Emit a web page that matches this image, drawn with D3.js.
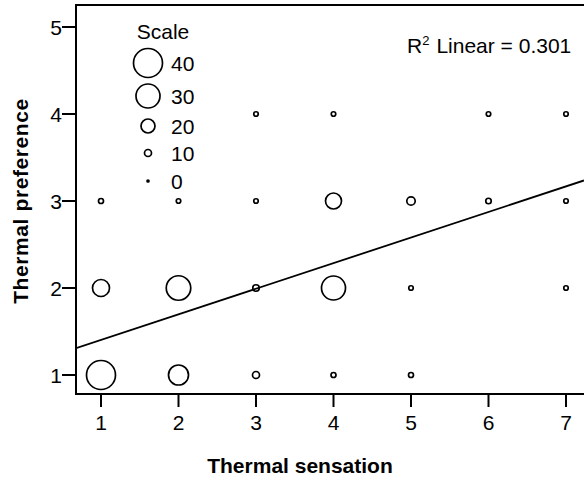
<!DOCTYPE html>
<html>
<head>
<meta charset="utf-8">
<script src="https://cdn.jsdelivr.net/npm/d3@7"></script>
<style>
  body { margin: 0; background: #fff; }
  svg { display: block; font-family: "Liberation Sans", Arial, sans-serif; }
</style>
</head>
<body>
<svg id="chart" width="584" height="481"></svg>
<script>
// bubble data: thermal sensation (x), thermal preference (y), number of votes
const sensation  = [1, 2, 3, 4, 5,   1, 2, 3, 4, 5, 7,   1, 2, 3, 4, 5, 6, 7,   3, 4, 6, 7]
const preference = [1, 1, 1, 1, 1,   2, 2, 2, 2, 2, 2,   3, 3, 3, 3, 3, 3, 3,   4, 4, 4, 4]
const counts     = [40, 26, 10, 6, 6,   23, 31, 9, 30, 5, 5,   6, 5, 5, 22, 12, 7, 5,   5, 5, 5, 5]

const xTicks = [1, 2, 3, 4, 5, 6, 7]
const yTicks = [1, 2, 3, 4, 5]
const legendValues = [40, 30, 20, 10, 0]

// linear fit
const fitIntercept = 1.11
const fitSlope = 0.294
const r2Label = "0.301"

const svg = d3.select("#chart")

const x = d3.scaleLinear().domain([1, 7]).range([101, 566])
const y = d3.scaleLinear().domain([1, 5]).range([375, 27])
// bubble radius, as used by the "Scale" legend
const r = d3.scaleLinear().domain([0, 10, 20, 30, 40]).range([1, 3.5, 7, 12, 14.5])

const plotLeft = 76, plotTop = 5, plotBottom = 394, plotRight = 584

// frame
svg.append("path")
  .attr("d", `M${plotRight},${plotTop}H${plotLeft}V${plotBottom}H${plotRight}`)
  .attr("fill", "none")
  .attr("stroke", "#000")
  .attr("stroke-width", 2)

// y axis ticks
const yAxis = svg.append("g")
yAxis.selectAll("line").data(yTicks).enter().append("line")
  .attr("x1", 62).attr("x2", plotLeft)
  .attr("y1", (d) => y(d)).attr("y2", (d) => y(d))
  .attr("stroke", "#000").attr("stroke-width", 2)
yAxis.selectAll("text").data(yTicks).enter().append("text")
  .attr("x", 62).attr("y", (d) => y(d))
  .attr("dy", "0.36em")
  .attr("text-anchor", "end")
  .attr("font-size", 21)
  .text((d) => d)

// x axis ticks
const xAxis = svg.append("g")
xAxis.selectAll("line").data(xTicks).enter().append("line")
  .attr("x1", (d) => x(d)).attr("x2", (d) => x(d))
  .attr("y1", plotBottom).attr("y2", 407)
  .attr("stroke", "#000").attr("stroke-width", 2)
xAxis.selectAll("text").data(xTicks).enter().append("text")
  .attr("x", (d) => x(d)).attr("y", 430)
  .attr("text-anchor", "middle")
  .attr("font-size", 21)
  .text((d) => d)

// axis titles
svg.append("text")
  .attr("x", 300).attr("y", 473)
  .attr("text-anchor", "middle")
  .attr("font-size", 21).attr("font-weight", "bold")
  .text("Thermal sensation")

svg.append("text")
  .attr("transform", "translate(28,201) rotate(-90)")
  .attr("text-anchor", "middle")
  .attr("font-size", 21).attr("font-weight", "bold")
  .attr("letter-spacing", 0.6)
  .text("Thermal preference")

// clip for plot contents
svg.append("clipPath").attr("id", "plotClip")
  .append("rect")
  .attr("x", plotLeft).attr("y", plotTop)
  .attr("width", plotRight - plotLeft).attr("height", plotBottom - plotTop)

const plot = svg.append("g").attr("clip-path", "url(#plotClip)")

// fit line
const x0 = x.invert(plotLeft), x1 = x.invert(plotRight)
plot.append("line")
  .attr("x1", x(x0)).attr("y1", y(fitIntercept + fitSlope * x0))
  .attr("x2", x(x1)).attr("y2", y(fitIntercept + fitSlope * x1))
  .attr("stroke", "#000").attr("stroke-width", 1.8)

// bubbles
plot.selectAll("circle.bubble").data(counts).enter().append("circle")
  .attr("class", "bubble")
  .attr("cx", (d, i) => x(sensation[i]))
  .attr("cy", (d, i) => y(preference[i]))
  .attr("r", (d) => r(d))
  .attr("fill", "none")
  .attr("stroke", "#000")
  .attr("stroke-width", 1.7)

// size legend
const legend = svg.append("g")
legend.append("text")
  .attr("x", 163).attr("y", 39)
  .attr("text-anchor", "middle")
  .attr("font-size", 21)
  .text("Scale")
const legendY = d3.scaleOrdinal().domain(legendValues).range([63, 96, 126, 153, 181])
legend.selectAll("circle").data(legendValues).enter().append("circle")
  .attr("cx", 148).attr("cy", (d) => legendY(d))
  .attr("r", (d) => r(d))
  .attr("fill", (d) => d === 0 ? "#000" : "none")
  .attr("stroke", "#000").attr("stroke-width", 1.7)
legend.selectAll("text.lv").data(legendValues).enter().append("text")
  .attr("class", "lv")
  .attr("x", 171).attr("y", (d) => legendY(d))
  .attr("dy", "0.36em")
  .attr("font-size", 21)
  .text((d) => d)

// R² annotation
const r2 = svg.append("text")
  .attr("x", 407).attr("y", 53)
  .attr("font-size", 21)
r2.append("tspan").text("R")
r2.append("tspan").attr("font-size", 13).attr("dy", -8).text("2")
r2.append("tspan").attr("dy", 8).attr("dx", 7).text("Linear = " + r2Label)
</script>
</body>
</html>
